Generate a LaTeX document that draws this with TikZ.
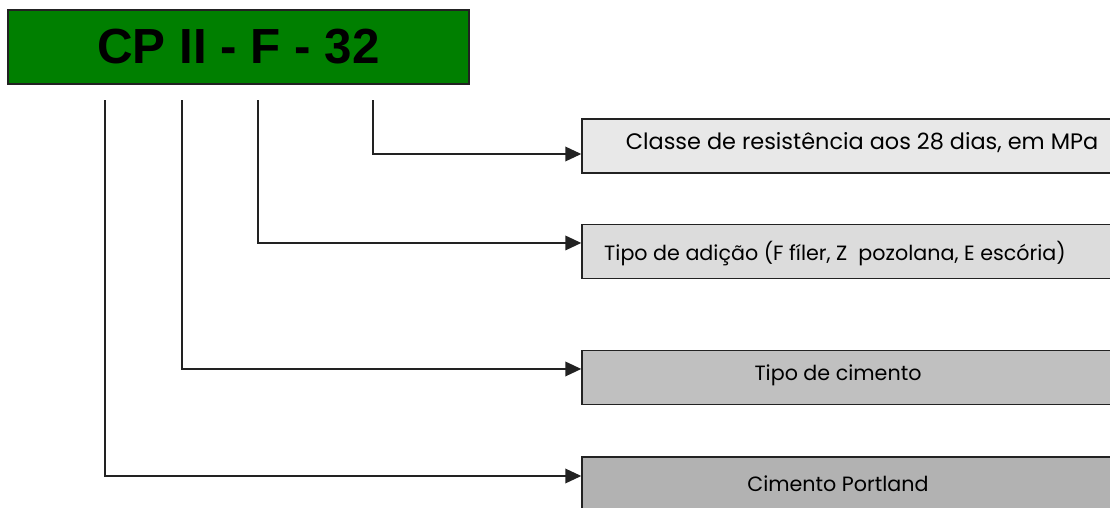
\documentclass[tikz,border=0pt]{standalone}
\usepackage{fontspec}
\setmainfont{Poppins}
\newfontfamily\hdrfont{Liberation Sans}
\usetikzlibrary{arrows.meta}
\definecolor{hdrgreen}{HTML}{007F00}
\definecolor{fillA}{HTML}{E8E8E8}
\definecolor{fillB}{HTML}{DCDCDC}
\definecolor{fillC}{HTML}{C0C0C0}
\definecolor{fillD}{HTML}{B2B2B2}
\definecolor{edge}{HTML}{222222}
\tikzset{
  hdrbox/.style={draw=edge, line width=1.1pt, fill=hdrgreen,
    minimum width=345.75pt, minimum height=55.5pt, inner sep=0pt},
  infobox/.style={draw=edge, line width=1.1pt,
    minimum width=405pt, minimum height=40.5pt, inner sep=0pt},
  lbl/.style={font=\fontsize{15.5}{17}\selectfont, text=black, inner sep=0pt},
  widelbl/.style={lbl, font=\fontsize{16.8}{18}\selectfont},
  link/.style={draw=edge, line width=1.1pt,
    -{Triangle[length=12pt,width=11pt]}},
}
\begin{document}
\begin{tikzpicture}[x=0.75pt,y=-0.75pt]
\useasboundingbox (0,0) rectangle (1110,507);
\clip (0,0) rectangle (1110,507);

% designation header
\node[hdrbox] (hdr) at (238.5,47)
  {\hdrfont\bfseries\fontsize{37}{40}\selectfont\raisebox{-1.5pt}{CP II - F - 32}};

% explanation boxes (they run past the right and bottom edges)
\node[infobox, fill=fillA] (b1) at (852,146) {};
\node[infobox, fill=fillB] (b2) at (852,251.5) {};
\node[infobox, fill=fillC] (b3) at (852,377.5) {};
\node[infobox, fill=fillD] (b4) at (852,484) {};

\node[widelbl] (t1) at (862,143) {Classe de resistência aos 28 dias, em MPa};
\node[lbl] (t2) at (835,254) {Tipo de adição (F fíler, Z\ \ pozolana, E escória)};
\node[lbl] (t3) at (838,375) {Tipo de cimento};
\node[lbl] (t4) at (838,484) {Cimento Portland};

% tick start points under each part of the code
\coordinate (s1) at (105,100);
\coordinate (s2) at (182,100);
\coordinate (s3) at (258,100);
\coordinate (s4) at (373,100);

\draw[link] (s4) |- ([yshift=-6pt]b1.west);
\draw[link] (s3) |- ([yshift=6.4pt]b2.west);
\draw[link] (s2) |- ([yshift=6.4pt]b3.west);
\draw[link] (s1) |- ([yshift=6pt]b4.west);
\end{tikzpicture}
\end{document}
